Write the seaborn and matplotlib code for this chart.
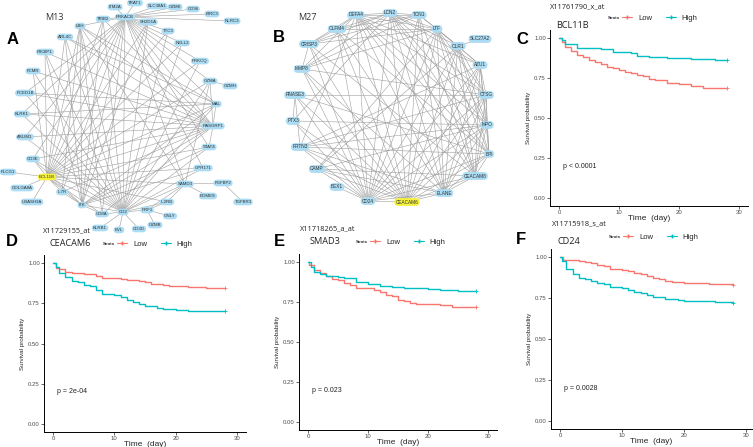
import pandas as pd
import seaborn as sns
from matplotlib import pyplot as plt
from matplotlib.lines import Line2D

sns.set_style('ticks')
plt.rcParams['font.family'] = ['Liberation Sans', 'DejaVu Sans']

# ---- network M13 (layout coordinates) ----
m13_genes = ['ITM2A', 'TRAT1', 'SLC38A1', 'GZMK', 'CD96', 'BIRC3', 'NLRC3', 'TRIB2', 'PRKACB',
             'SH2D1A', 'LBH', 'TTC3', 'ARL4C', 'NELL2', 'PIK3IP1', 'PRKCQ', 'FCMR', 'GZMA', 'GZMH',
             'PCED1B', 'MAL', 'KLRK1', 'RASGRP1', 'ABLIM1', 'STAT4', 'CD3E', 'GPR171', 'PLCG1',
             'BCL11B', 'GOLGA8A', 'SAMD3', 'FGFBP2', 'EOMES', 'UBASH3A', 'IL7R', 'TGFBR3', 'IL2RB',
             'ITK', 'PRF1', 'GNLY', 'CD8A', 'CD2', 'GZMB', 'KLRB1', 'EVL', 'CD3D']
m13_x = [115, 135, 157, 175, 193, 212, 232, 103, 125, 148, 80, 168, 65, 182, 45, 200, 33, 210, 230,
         25, 216, 22, 213, 25, 209, 33, 203, 8, 47, 22, 185, 223, 208, 32, 62, 243, 167, 82, 147, 170,
         102, 123, 155, 100, 119, 139]
m13_y = [7, 3, 6, 7, 9, 14, 21, 19, 17, 22, 26, 31, 37, 43, 52, 61, 71, 81, 86, 93, 104, 114, 126,
         137, 147, 159, 168, 172, 177, 188, 184, 183, 196, 202, 192, 202, 202, 205, 210, 216, 214,
         212, 225, 228, 230, 229]
m13_links = {
    'PRKACB': 'ITM2A TRAT1 SLC38A1 GZMK CD96 BIRC3 NLRC3 TRIB2 SH2D1A LBH TTC3 NELL2 PRKCQ GZMA MAL '
              'RASGRP1 STAT4 GPR171 SAMD3 CD2 ITK CD8A BCL11B CD3E IL7R ABLIM1 KLRK1 PCED1B',
    'BCL11B': 'PLCG1 GOLGA8A UBASH3A CD3E IL7R ITK CD2 CD8A RASGRP1 MAL STAT4 GPR171 GZMA PRKCQ NELL2 '
              'TTC3 SH2D1A TRIB2 LBH ARL4C PIK3IP1 FCMR SAMD3 IL2RB',
    'RASGRP1': 'PIK3IP1 FCMR PCED1B KLRK1 ABLIM1 CD3E IL7R ITK CD8A LBH ARL4C TRIB2 MAL STAT4 GZMA',
    'CD2': 'CD3D EVL KLRB1 CD8A ITK PRF1 IL2RB SAMD3 GPR171 STAT4 MAL GZMA PRKCQ NELL2 TTC3 SH2D1A '
           'TRIB2 LBH ARL4C PIK3IP1 FCMR PCED1B KLRK1 ABLIM1 CD3E',
    'ITK': 'LBH TRIB2 ARL4C PIK3IP1 SH2D1A MAL STAT4 GPR171 CD8A IL7R CD3E',
    'SAMD3': 'FGFBP2 EOMES IL2RB PRF1 LBH GZMA',
    'FGFBP2': 'TGFBR3',
    'PRF1': 'GZMB GNLY IL2RB',
    'GZMA': 'GZMH',
    'MAL': 'PCED1B KLRK1 LBH ARL4C',
    'LBH': 'IL7R CD8A',
}

# ---- network M27 ----
m27_genes = ['DEFA4', 'LCN2', 'TCN1', 'OLFM4', 'LTF', 'SLC27A2', 'CRISP3', 'OLR1', 'MMP8', 'AZU1',
             'RNASE3', 'CTSG', 'PTX3', 'MPO', 'PRTN3', 'BPI', 'CAMP', 'CEACAM8', 'BEX1', 'ELANE',
             'CD24', 'CEACAM6']
m27_x = [356, 390, 419, 337, 437, 480, 309, 458, 302, 480, 295, 486, 293, 487, 300, 489, 317, 475,
         337, 444, 368, 407]
m27_y = [15, 13, 15, 29, 29, 39, 44, 46, 69, 65, 95, 95, 121, 125, 147, 154, 169, 176, 187, 193,
         201, 202]
m27_links = {
    'CEACAM6': 'CD24 ELANE CEACAM8 BPI MPO CTSG AZU1 OLR1 LTF TCN1 LCN2 DEFA4 OLFM4 CRISP3 MMP8 '
               'RNASE3 PTX3 PRTN3 CAMP',
    'CD24': 'BEX1 CAMP PRTN3 PTX3 RNASE3 MMP8 CRISP3 OLFM4 DEFA4 LCN2 TCN1 LTF OLR1 AZU1 CTSG MPO '
            'BPI CEACAM8 ELANE',
    'ELANE': 'CEACAM8 BPI MPO CTSG AZU1 OLR1 LTF TCN1 LCN2 DEFA4 OLFM4 MMP8 PRTN3 CAMP',
    'CEACAM8': 'BPI MPO CTSG AZU1 OLR1 LTF TCN1 LCN2 DEFA4 CRISP3 CAMP',
    'BPI': 'MPO CTSG AZU1 OLR1 LTF LCN2 DEFA4 OLFM4 PRTN3 RNASE3',
    'MPO': 'CTSG AZU1 OLR1 LTF LCN2 DEFA4 PRTN3 CAMP PTX3',
    'CTSG': 'AZU1 OLR1 LTF LCN2 DEFA4 RNASE3 PRTN3 MMP8',
    'AZU1': 'OLR1 LTF LCN2 DEFA4 PRTN3',
    'OLR1': 'SLC27A2 LTF LCN2 TCN1 CAMP',
    'LTF': 'TCN1 LCN2 DEFA4 OLFM4 CRISP3 MMP8 CAMP',
    'LCN2': 'TCN1 DEFA4 OLFM4 CRISP3 MMP8 PTX3',
    'TCN1': 'DEFA4 OLFM4 CRISP3 MMP8',
    'DEFA4': 'OLFM4 CRISP3 MMP8 PRTN3',
    'CRISP3': 'OLFM4 MMP8',
    'RNASE3': 'PRTN3 PTX3',
}

# ---- survival curves ----
c_low_t = [0, 0.5, 1, 2, 3, 4, 5, 6, 7, 8, 9, 10, 11, 12, 13, 14, 15, 16, 18, 20, 22, 24, 28]
c_low_s = [1.0, 0.975, 0.945, 0.92, 0.895, 0.88, 0.86, 0.85, 0.835, 0.82, 0.81, 0.80, 0.79, 0.78,
           0.77, 0.76, 0.745, 0.735, 0.72, 0.71, 0.70, 0.69, 0.69]
c_high_t = [0, 0.5, 1, 3, 7, 9, 12, 13, 15, 18, 22, 26, 28]
c_high_s = [1.0, 0.985, 0.965, 0.94, 0.93, 0.915, 0.905, 0.89, 0.88, 0.875, 0.87, 0.865, 0.86]

d_low_t = [0, 0.5, 1, 2, 3, 5, 6, 7, 8, 10, 11, 12, 14, 15, 16, 18, 19, 20, 22, 25, 28]
d_low_s = [1.0, 0.97, 0.96, 0.945, 0.94, 0.935, 0.93, 0.92, 0.91, 0.905, 0.90, 0.895, 0.89, 0.88,
           0.87, 0.865, 0.86, 0.855, 0.85, 0.845, 0.845]
d_high_t = [0, 0.5, 1, 2, 3, 4, 5, 6, 7, 8, 10, 11, 12, 13, 14, 15, 17, 18, 20, 22, 25, 28]
d_high_s = [1.0, 0.975, 0.94, 0.915, 0.89, 0.88, 0.865, 0.855, 0.835, 0.81, 0.80, 0.79, 0.77, 0.755,
            0.745, 0.73, 0.72, 0.715, 0.71, 0.705, 0.70, 0.70]

e_low_t = [0, 0.2, 1, 2, 3, 4, 5, 6, 7, 8, 10, 11, 12, 13, 14, 15, 16, 17, 18, 20, 22, 24, 28]
e_low_s = [1.0, 0.98, 0.95, 0.93, 0.91, 0.895, 0.885, 0.87, 0.855, 0.84, 0.835, 0.825, 0.81, 0.795,
           0.785, 0.765, 0.755, 0.745, 0.74, 0.735, 0.73, 0.72, 0.72]
e_high_t = [0, 0.5, 1, 2, 3, 4, 5, 6, 8, 10, 11, 12, 14, 16, 18, 20, 22, 25, 28]
e_high_s = [1.0, 0.97, 0.94, 0.925, 0.915, 0.91, 0.905, 0.90, 0.875, 0.865, 0.86, 0.85, 0.845,
            0.84, 0.835, 0.83, 0.825, 0.82, 0.82]

f_low_t = [0, 0.5, 2, 3, 4, 5, 6, 7, 8, 9, 10, 11, 12, 13, 14, 15, 16, 17, 18, 20, 22, 24, 28]
f_low_s = [1.0, 0.985, 0.98, 0.975, 0.97, 0.965, 0.955, 0.945, 0.93, 0.925, 0.92, 0.915, 0.905,
           0.895, 0.885, 0.875, 0.865, 0.855, 0.85, 0.845, 0.84, 0.835, 0.83]
f_high_t = [0, 0.3, 1, 2, 3, 4, 5, 6, 7, 8, 10, 11, 12, 13, 14, 15, 17, 19, 20, 22, 25, 28]
f_high_s = [1.0, 0.975, 0.93, 0.895, 0.87, 0.865, 0.855, 0.845, 0.835, 0.815, 0.81, 0.80, 0.785,
            0.78, 0.77, 0.755, 0.745, 0.74, 0.735, 0.73, 0.725, 0.72]

strata_colors = {'Low': '#F8766D', 'High': '#00BFC4'}

W, H = 753, 447
fig = plt.figure(figsize=(W / 100, H / 100), dpi=100)


def px_rect(left, top, right, bottom):
    return [left / W, 1 - bottom / H, (right - left) / W, (bottom - top) / H]


def ftext(x, y, s, **kw):
    fig.text(x / W, 1 - y / H, s, ha=kw.pop('ha', 'center'), va=kw.pop('va', 'center'), **kw)


def draw_network(rect, xlim, genes, xs, ys, links, highlight, size):
    ax = fig.add_axes(rect)
    ax.set_xlim(*xlim)
    ax.set_ylim(235, 0)
    ax.axis('off')
    pos = dict(zip(genes, zip(xs, ys)))
    edges = set()
    for hub, nbrs in links.items():
        for n in nbrs.split():
            edges.add(tuple(sorted((hub, n))))
    for a, b in sorted(edges):
        ax.plot([pos[a][0], pos[b][0]], [pos[a][1], pos[b][1]],
                color='#9e9e9e', lw=0.4, zorder=1, clip_on=False)
    for g in genes:
        fc = '#f6f23c' if g == highlight else '#acdcf3'
        ax.text(pos[g][0], pos[g][1], g, fontsize=size, ha='center', va='center', color='#333333',
                zorder=3, clip_on=False,
                bbox=dict(boxstyle='round,pad=0.3,rounding_size=0.9', fc=fc, ec='none'))


def draw_km(rect, xmax, low_t, low_s, high_t, high_s, pval):
    ax = fig.add_axes(rect)
    df = pd.concat([
        pd.DataFrame({'time': low_t, 'surv': low_s, 'Strata': 'Low'}),
        pd.DataFrame({'time': high_t, 'surv': high_s, 'Strata': 'High'}),
    ])
    sns.lineplot(data=df, x='time', y='surv', hue='Strata', palette=strata_colors,
                 estimator=None, sort=False, drawstyle='steps-post', lw=1.0,
                 legend=False, ax=ax)
    ends = df.groupby('Strata', sort=False).tail(1)
    sns.scatterplot(data=ends, x='time', y='surv', hue='Strata', palette=strata_colors,
                    marker='+', s=8, linewidth=0.6, legend=False, ax=ax)
    ax.set_xlim(-1.5, xmax)
    ax.set_ylim(-0.05, 1.05)
    ax.set_xticks([0, 10, 20, 30])
    ax.set_yticks([0, 0.25, 0.5, 0.75, 1.0])
    ax.set_yticklabels(['0.00', '0.25', '0.50', '0.75', '1.00'])
    sns.despine(ax=ax)
    for sp in ('left', 'bottom'):
        ax.spines[sp].set_linewidth(0.7)
        ax.spines[sp].set_color('black')
    ax.tick_params(labelsize=4.3, length=2, width=0.5, pad=1, labelcolor='#4d4d4d')
    ax.set_xlabel('Time  (day)', fontsize=6, labelpad=0)
    ax.set_ylabel('Survival probability', fontsize=4.5, labelpad=2)
    ax.text(0.6, 0.2, pval, fontsize=5, ha='left', va='center', color='#222222')
    return ax


def draw_legend(ax, x, y):
    handles = [Line2D([], [], color=strata_colors[k], marker='+', markersize=3, lw=0.8)
               for k in ('Low', 'High')]
    ax.legend(handles, ['Low', 'High'], ncol=2, frameon=False, fontsize=5.5,
              loc='center left', bbox_to_anchor=(x / W, 1 - y / H), bbox_transform=fig.transFigure,
              handlelength=1.3, handletextpad=0.8, columnspacing=1.8, borderpad=0, borderaxespad=0)
    ftext(x - 8, y, 'Strata', fontsize=3, fontweight='bold', color='#333333')


# networks
draw_network(px_rect(0, 0, 260, 235), (0, 260), m13_genes, m13_x, m13_y, m13_links, 'BCL11B', 3.2)
draw_network(px_rect(260, 0, 500, 235), (260, 500), m27_genes, m27_x, m27_y, m27_links, 'CEACAM6', 3.4)
ftext(54, 17, 'M13', fontsize=6.5, family='Open Sans', color='#333333')
ftext(307, 17, 'M27', fontsize=6.5, family='Open Sans', color='#333333')

# survival panels
ax_c = draw_km(px_rect(550, 30, 748, 206), 31.5, c_low_t, c_low_s, c_high_t, c_high_s, 'p < 0.0001')
ax_d = draw_km(px_rect(44, 255, 246, 432), 31.5, d_low_t, d_low_s, d_high_t, d_high_s, 'p = 2e-04')
ax_e = draw_km(px_rect(299, 254, 497, 430), 31.5, e_low_t, e_low_s, e_high_t, e_high_s, 'p = 0.023')
ax_f = draw_km(px_rect(551, 249, 752, 429), 31.0, f_low_t, f_low_s, f_high_t, f_high_s, 'p = 0.0028')

draw_legend(ax_c, 622, 18)
draw_legend(ax_d, 117, 244)
draw_legend(ax_e, 370, 242)
draw_legend(ax_f, 623, 237)

probe_kw = dict(fontsize=5.3, family='Open Sans', ha='left', color='#222222')
ftext(550, 7, 'X11761790_x_at', **probe_kw)
ftext(43, 231, 'X11729155_at', **probe_kw)
ftext(300, 229, 'X11718265_a_at', **probe_kw)
ftext(552, 224, 'X11715918_s_at', **probe_kw)

gene_kw = dict(fontsize=6.6, family='Open Sans', ha='left', color='#222222')
ftext(556, 25, 'BCL11B', **gene_kw)
ftext(50, 243, 'CEACAM6', **gene_kw)
ftext(310, 242, 'SMAD3', **gene_kw)
ftext(557, 242, 'CD24', **gene_kw)

# panel letters
letter_kw = dict(fontsize=12, fontweight='bold', color='black')
for letter, x, y in [('A', 13, 39), ('B', 279, 38), ('C', 522, 39),
                     ('D', 12, 241), ('E', 279, 242), ('F', 521, 240)]:
    ftext(x, y, letter, **letter_kw)

fig.savefig('out.png', dpi=100)
plt.close(fig)
